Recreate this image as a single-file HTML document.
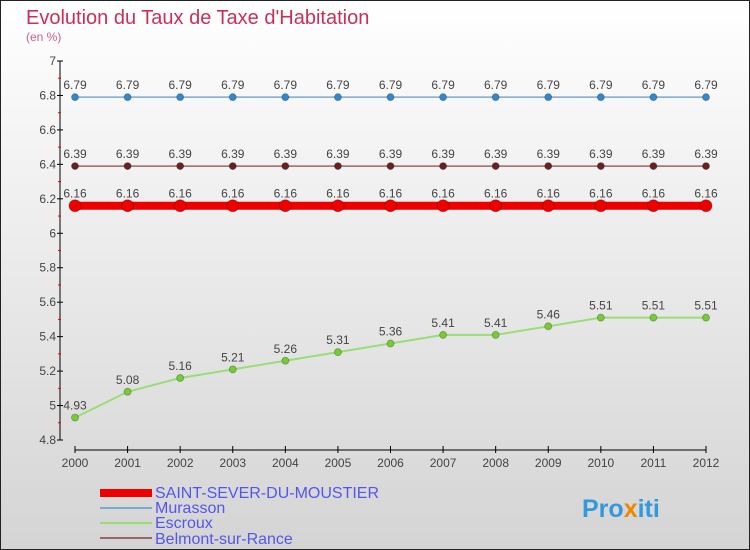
<!DOCTYPE html>
<html><head><meta charset="utf-8"><style>
body{margin:0}
#c{width:750px;height:550px;position:relative;overflow:hidden;font-family:"Liberation Sans",sans-serif}
svg text{font-family:"Liberation Sans",sans-serif}
</style></head><body>
<div id="c">
<svg id="s" width="750" height="550" xmlns="http://www.w3.org/2000/svg">
<defs><linearGradient id="bg" x1="0" y1="0" x2="0" y2="1"><stop offset="0" stop-color="#ffffff"/><stop offset="1" stop-color="#d4d4d4"/></linearGradient></defs>
<rect x="0.5" y="0.5" width="749" height="549" fill="url(#bg)" stroke="#222"/>
<text x="26" y="24" font-size="20" fill="#c8305a">Evolution du Taux de Taxe d'Habitation</text>
<text x="26" y="41" font-size="12" fill="#c8608a">(en %)</text>
<g id="axes"></g><g id="marks"></g>
<g>
<rect x="100" y="489" width="52" height="8" fill="#ee0000"/>
<text x="155" y="498" font-size="16" fill="#5555ee">SAINT-SEVER-DU-MOUSTIER</text>
<line x1="100" y1="508" x2="152" y2="508" stroke="#7aaad0" stroke-width="2"/>
<text x="155" y="513" font-size="16" fill="#5555ee">Murasson</text>
<line x1="100" y1="523" x2="152" y2="523" stroke="#99dd77" stroke-width="2"/>
<text x="155" y="528" font-size="16" fill="#5555ee">Escroux</text>
<line x1="100" y1="538" x2="152" y2="538" stroke="#996666" stroke-width="2"/>
<text x="155" y="544" font-size="16" fill="#5555ee">Belmont-sur-Rance</text>
</g>
<text x="582" y="517" font-size="25" font-weight="bold" fill="#3399dd">Pro<tspan fill="#ee8800">x</tspan>iti</text>
</svg></div>
<script>
const years=[2000,2001,2002,2003,2004,2005,2006,2007,2008,2009,2010,2011,2012];
const yTicks=[4.8,5,5.2,5.4,5.6,5.8,6,6.2,6.4,6.6,6.8,7];
const saintSever=[6.16,6.16,6.16,6.16,6.16,6.16,6.16,6.16,6.16,6.16,6.16,6.16,6.16];
const murasson=[6.79,6.79,6.79,6.79,6.79,6.79,6.79,6.79,6.79,6.79,6.79,6.79,6.79];
const escroux=[4.93,5.08,5.16,5.21,5.26,5.31,5.36,5.41,5.41,5.46,5.51,5.51,5.51];
const belmont=[6.39,6.39,6.39,6.39,6.39,6.39,6.39,6.39,6.39,6.39,6.39,6.39,6.39];
const NS='http://www.w3.org/2000/svg';
const X=i=>75+i*(706-75)/(years.length-1);
const Y=v=>440-(v-4.8)*(440-61)/2.2;
function mk(t,a,p){const e=document.createElementNS(NS,t);for(const k in a)e.setAttribute(k,a[k]);p.appendChild(e);return e;}
const ax=document.getElementById('axes'),mg=document.getElementById('marks');
let e=mk('line',{x1:60,y1:61,x2:60,y2:440,stroke:'#000'},ax);


e=mk('line',{x1:75,y1:450,x2:706,y2:450,stroke:'#000'},ax);


yTicks.forEach((v,i)=>{
 mk('line',{x1:57,y1:Y(v),x2:63,y2:Y(v),stroke:'#000'},ax);
 if(i<yTicks.length-1)mk('line',{x1:58,y1:Y(v+0.1),x2:61,y2:Y(v+0.1),stroke:'#e00'},ax);
 const t=mk('text',{x:56,y:Y(v)+4,'font-size':12,fill:'#444','text-anchor':'end'},ax);
 t.textContent=String(v);
 
 
});
years.forEach((y,i)=>{
 mk('line',{x1:X(i),y1:446,x2:X(i),y2:453,stroke:'#000'},ax);
 const t=mk('text',{x:X(i),y:467,'font-size':12,fill:'#444','text-anchor':'middle'},ax);
 t.textContent=y;
 
 
});
function series(vals,color,dot,lw,r,name){
 const g=mk('g',{},mg);
 
 
 mk('polyline',{points:vals.map((v,i)=>X(i)+','+Y(v)).join(' '),fill:'none',stroke:color,'stroke-width':lw},g);
 vals.forEach((v,i)=>{
  const c=mk('circle',{cx:X(i),cy:Y(v),r:r,fill:dot,stroke:'rgba(0,0,0,0.25)'},g);
  
  
  const t=mk('text',{x:X(i),y:Y(v)-8,'font-size':12,fill:'#444','text-anchor':'middle'},g);
  t.textContent=v.toFixed(2).replace(/0$/,'');
  
  
 });
}
series(murasson,'#7aaad0','#3388cc',1.5,3.5,'murasson');
series(belmont,'#996666','#662222',1.5,3.5,'belmont');
series(escroux,'#99dd77','#77cc33',2,3.5,'escroux');
series(saintSever,'#ee0000','#ee0000',8,6,'saint-sever');
</script>
</body></html>
